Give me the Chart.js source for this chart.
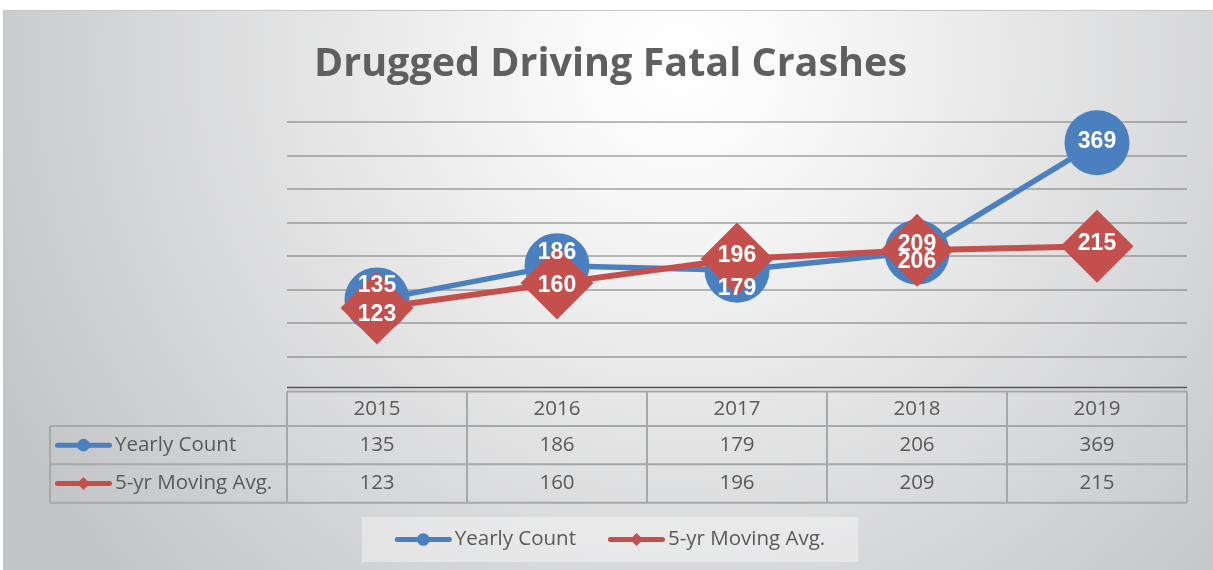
<!DOCTYPE html>
<html>
<head>
<meta charset="utf-8">
<script src="https://cdn.jsdelivr.net/npm/chart.js@4.4.1/dist/chart.umd.min.js"></script>
<style>
  html, body { margin: 0; padding: 0; background: #fff; }
  #wrap { position: relative; width: 1213px; height: 570px; }
</style>
</head>
<body>
<div id="wrap"><canvas id="chart-line"></canvas></div>
<script>
var years = ["2015", "2016", "2017", "2018", "2019"];
var yearlyCount = [135, 186, 179, 206, 369];
var movingAvg = [123, 160, 196, 209, 215];
var seriesNames = ["Yearly Count", "5-yr Moving Avg."];
var chartTitle = "Drugged Driving Fatal Crashes";

var blue = "#4a80c0";
var red = "#c4504d";
var textGray = "#595959";
var tableFont = "20.5px 'Open Sans'";

// little line + marker key, like the excel legend
function drawKey(ctx, x, y, w, color, style) {
  ctx.save();
  ctx.strokeStyle = color;
  ctx.fillStyle = color;
  ctx.lineWidth = 5;
  ctx.lineCap = "round";
  ctx.beginPath();
  ctx.moveTo(x + 2.5, y);
  ctx.lineTo(x + w - 2.5, y);
  ctx.stroke();
  var cx = x + w / 2;
  ctx.beginPath();
  if (style === "circle") {
    ctx.arc(cx, y, 6.3, 0, Math.PI * 2);
  } else {
    ctx.moveTo(cx - 6.5, y);
    ctx.lineTo(cx, y - 6.5);
    ctx.lineTo(cx + 6.5, y);
    ctx.lineTo(cx, y + 6.5);
    ctx.closePath();
  }
  ctx.fill();
  ctx.restore();
}

var backdrop = {
  id: "backdrop",
  beforeDraw: function (chart) {
    var ctx = chart.ctx;
    ctx.save();
    var g = ctx.createRadialGradient(680, 60, 0, 680, 60, 760);
    g.addColorStop(0, "#ffffff");
    g.addColorStop(0.12, "#fbfbfb");
    g.addColorStop(1, "#c4c5c7");
    ctx.fillStyle = g;
    ctx.fillRect(3, 10, 1210, 560);
    ctx.strokeStyle = "#c6c6c6";
    ctx.lineWidth = 1;
    ctx.strokeRect(3.5, 10.5, 1212, 562);
    ctx.restore();
  }
};

var dataTable = {
  id: "dataTable",
  afterDraw: function (chart) {
    var ctx = chart.ctx;
    var area = chart.chartArea;
    var xs = chart.scales.x;
    var colW = (area.right - area.left) / years.length;
    var y0 = area.bottom + 1;
    var y1 = y0 + 34.5;
    var y2 = y1 + 38.3;
    var y3 = y2 + 38.4;
    var left = 50;

    ctx.save();
    // axis line
    ctx.strokeStyle = "#555";
    ctx.lineWidth = 1.5;
    ctx.beginPath();
    ctx.moveTo(area.left, area.bottom - 3);
    ctx.lineTo(area.right, area.bottom - 3);
    ctx.stroke();

    ctx.strokeStyle = "#a7a8aa";
    ctx.lineWidth = 2;
    ctx.beginPath();
    ctx.moveTo(area.left, y0); ctx.lineTo(area.right, y0);
    [y1, y2, y3].forEach(function (yy) {
      ctx.moveTo(left, yy); ctx.lineTo(area.right, yy);
    });
    ctx.moveTo(left, y1); ctx.lineTo(left, y3);
    for (var i = 0; i <= years.length; i++) {
      var xx = area.left + i * colW;
      ctx.moveTo(xx, y0); ctx.lineTo(xx, y3);
    }
    ctx.stroke();

    ctx.fillStyle = textGray;
    ctx.font = tableFont;
    ctx.textAlign = "center";
    ctx.textBaseline = "middle";
    var rows = [yearlyCount, movingAvg];
    years.forEach(function (yr, i) {
      var cx = xs.getPixelForValue(i);
      ctx.fillText(yr, cx, (y0 + y1) / 2);
      ctx.fillText(String(rows[0][i]), cx, (y1 + y2) / 2);
      ctx.fillText(String(rows[1][i]), cx, (y2 + y3) / 2);
    });

    ctx.textAlign = "left";
    drawKey(ctx, 55, (y1 + y2) / 2, 57, blue, "circle");
    drawKey(ctx, 55, (y2 + y3) / 2, 57, red, "diamond");
    ctx.fillStyle = textGray;
    ctx.fillText(seriesNames[0], 115, (y1 + y2) / 2);
    ctx.fillText(seriesNames[1], 115, (y2 + y3) / 2);

    // bottom legend
    var keyW = 57, gap = 3, between = 32, pad = 33;
    var w0 = ctx.measureText(seriesNames[0]).width;
    var w1 = ctx.measureText(seriesNames[1]).width;
    var total = keyW + gap + w0 + between + keyW + gap + w1;
    var boxW = total + pad * 2;
    var mid = 610;
    var bx = mid - boxW / 2;
    var by = 517, bh = 45;
    ctx.fillStyle = "rgba(255,255,255,0.38)";
    ctx.fillRect(bx, by, boxW, bh);
    var ly = by + bh / 2;
    var lx = bx + pad;
    drawKey(ctx, lx, ly, keyW, blue, "circle");
    ctx.fillStyle = textGray;
    ctx.fillText(seriesNames[0], lx + keyW + gap, ly);
    lx += keyW + gap + w0 + between;
    drawKey(ctx, lx, ly, keyW, red, "diamond");
    ctx.fillStyle = textGray;
    ctx.fillText(seriesNames[1], lx + keyW + gap, ly);
    ctx.restore();
  }
};

var pointLabels = {
  id: "pointLabels",
  afterDatasetsDraw: function (chart, args, opts) {
    var ctx = chart.ctx;
    ctx.save();
    ctx.fillStyle = "#ffffff";
    ctx.font = "bold 23px 'Liberation Sans'";
    ctx.textAlign = "center";
    ctx.textBaseline = "alphabetic";
    chart.data.datasets.forEach(function (ds, di) {
      var meta = chart.getDatasetMeta(di);
      meta.data.forEach(function (pt, i) {
        var dy = opts.dy[di][i] || 0;
        ctx.fillText(String(ds.data[i]), pt.x, pt.y + dy + 8.2);
      });
    });
    ctx.restore();
  }
};

var ctx = document.getElementById("chart-line").getContext("2d");
new Chart(ctx, {
  type: "line",
  data: {
    labels: years,
    datasets: [
      {
        label: seriesNames[0],
        data: yearlyCount,
        borderColor: blue,
        backgroundColor: blue,
        borderWidth: 5.5,
        tension: 0,
        pointStyle: "circle",
        pointRadius: 32.5,
        pointHoverRadius: 32.5,
        pointBorderWidth: 0,
        clip: false,
        order: 2,
      },
      {
        label: seriesNames[1],
        data: movingAvg,
        borderColor: red,
        backgroundColor: red,
        borderWidth: 6,
        tension: 0,
        pointStyle: "rectRot",
        pointRadius: 36.5,
        pointHoverRadius: 36.5,
        pointBorderWidth: 0,
        clip: false,
        order: 1,
      },
    ],
  },
  options: {
    responsive: true,
    maintainAspectRatio: false,
    animation: false,
    events: [],
    layout: { autoPadding: false, padding: { left: 8, right: 0, top: 0, bottom: 0 } },
    plugins: {
      legend: { display: false },
      tooltip: { enabled: false },
      title: {
        display: true,
        text: chartTitle,
        color: "#5f5f5f",
        font: { family: "'Open Sans'", size: 39.5, weight: "bold", lineHeight: 1.2 },
        padding: { top: 41, bottom: 33.6 },
      },
      pointLabels: {
        dy: [[-16, -15, 16, 7.5, -3], [5, 0.5, -5, -7.5, -4.5]],
      },
    },
    scales: {
      x: {
        offset: true,
        grid: { display: false },
        border: { display: false },
        ticks: { display: false },
        afterFit: function (s) { s.height = 179.5; },
      },
      y: {
        min: 0,
        max: 400,
        ticks: { display: false, stepSize: 50 },
        grid: {
          drawTicks: false,
          lineWidth: 2,
          color: function (c) {
            return c.tick && c.tick.value === 0 ? "rgba(0,0,0,0)" : "rgba(120,120,120,0.5)";
          },
        },
        border: { display: false },
        afterFit: function (s) { s.width = 279; },
      },
      yRight: {
        position: "right",
        grid: { display: false },
        border: { display: false },
        ticks: { display: false },
        afterFit: function (s) { s.width = 26; },
      },
    },
  },
  plugins: [backdrop, dataTable, pointLabels],
});
</script>
</body>
</html>
